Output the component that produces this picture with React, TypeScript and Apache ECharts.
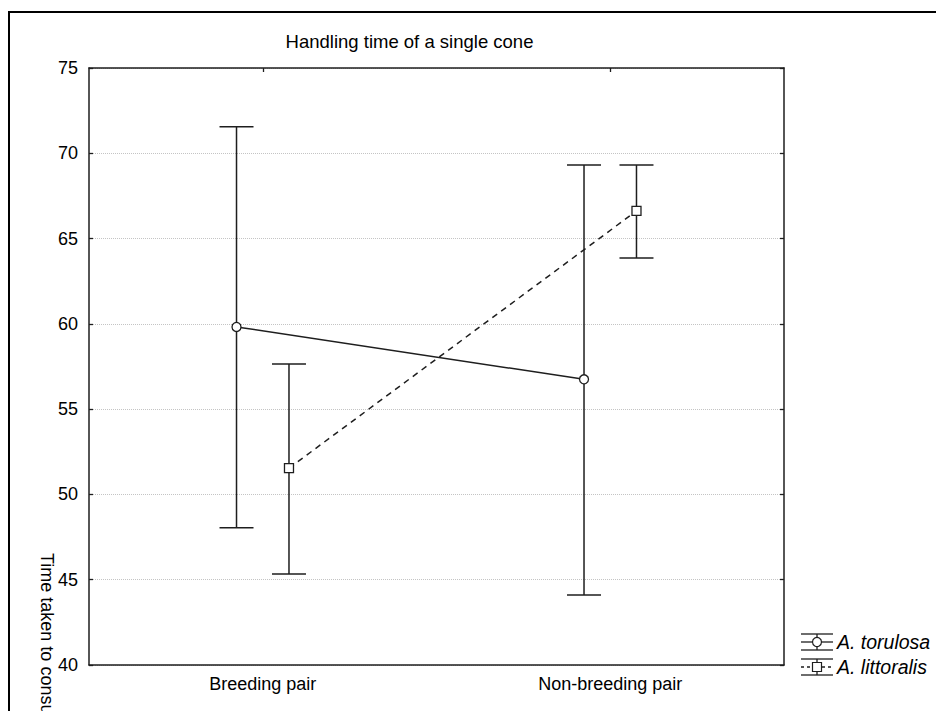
import React, { useEffect, useRef } from "react";
import * as echarts from "echarts";

const categories = ["Breeding pair", "Non-breeding pair"];
const yTicks = { min: 40, max: 75, step: 5 };

const torulosaMean = [59.82, 56.75];
const torulosaUpper = [71.55, 69.31];
const torulosaLower = [48.04, 44.11];

const littoralisMean = [51.54, 66.62];
const littoralisUpper = [57.65, 69.31];
const littoralisLower = [45.34, 63.86];

const seriesNames = ["A. torulosa", "A. littoralis"];
const titleText = "Handling time of a single cone";
const yAxisTitle = "Time taken to consume a single cone (s)";

const FONT = "Liberation Sans, Arial, sans-serif";
const INK = "#1e1e1e";
const OFFSET = 0.0755; // horizontal dodge, in category units

export default function App() {
  const ref = useRef<HTMLDivElement>(null);

  useEffect(() => {
    if (!ref.current) return;
    const chart = echarts.init(ref.current, null, { renderer: "svg" });

    const errData = (upper: number[], lower: number[], shift: number) =>
      upper.map((u, i) => [i + shift, lower[i], u]);
    const meanData = (mean: number[], shift: number) =>
      mean.map((m, i) => [i + shift, m]);

    const errorBarSeries = (name: string, data: number[][]) => ({
      type: "custom",
      name,
      xAxisIndex: 1,
      yAxisIndex: 0,
      z: 2,
      silent: true,
      data,
      encode: { x: 0, y: [1, 2] },
      renderItem: (params: any, api: any) => {
        const x = api.value(0);
        const lo = api.coord([x, api.value(1)]);
        const hi = api.coord([x, api.value(2)]);
        const hw = 17;
        const style = { stroke: INK, lineWidth: 1.5 };
        return {
          type: "group",
          children: [
            { type: "line", shape: { x1: hi[0], y1: hi[1], x2: lo[0], y2: lo[1] }, style },
            { type: "line", shape: { x1: hi[0] - hw, y1: hi[1], x2: hi[0] + hw, y2: hi[1] }, style },
            { type: "line", shape: { x1: lo[0] - hw, y1: lo[1], x2: lo[0] + hw, y2: lo[1] }, style },
          ],
        };
      },
    });

    const lineSeries = (name: string, data: number[][], symbol: string, dashed: boolean) => ({
      type: "line",
      name,
      xAxisIndex: 1,
      yAxisIndex: 0,
      z: 5,
      data,
      symbol,
      symbolSize: 9,
      showAllSymbol: true,
      itemStyle: { color: "#fff", borderColor: INK, borderWidth: 1.3 },
      lineStyle: { color: INK, width: 1.5, type: dashed ? [6, 5] : "solid" },
      emphasis: { disabled: true },
    });

    const legendIcon = (cx: number, cy: number, dashed: boolean, square: boolean) => {
      const s = { stroke: INK, lineWidth: 1.3, fill: "none" };
      const ds = dashed ? { ...s, lineDash: [3, 3] } : s;
      const els: any[] = [
        { type: "line", shape: { x1: cx - 16, y1: cy - 8, x2: cx + 16, y2: cy - 8 }, style: s },
        { type: "line", shape: { x1: cx - 16, y1: cy + 8, x2: cx + 16, y2: cy + 8 }, style: s },
        { type: "line", shape: { x1: cx, y1: cy - 8, x2: cx, y2: cy + 8 }, style: s },
        { type: "line", shape: { x1: cx - 16, y1: cy, x2: cx - 5, y2: cy }, style: ds },
        { type: "line", shape: { x1: cx + 5, y1: cy, x2: cx + 16, y2: cy }, style: ds },
      ];
      if (square) {
        els.push({ type: "rect", shape: { x: cx - 4.5, y: cy - 4.5, width: 9, height: 9 }, style: { stroke: INK, lineWidth: 1.2, fill: "#fff" }, z2: 5 });
      } else {
        els.push({ type: "circle", shape: { cx, cy, r: 4.5 }, style: { stroke: INK, lineWidth: 1.2, fill: "#fff" }, z2: 5 });
      }
      return els;
    };

    const axisLine = { show: true, onZero: false, lineStyle: { color: INK, width: 1.5 } };

    chart.setOption({
      animation: false,
      backgroundColor: "#fff",
      grid: { left: 89, top: 68, width: 695, height: 597, containLabel: false },
      xAxis: [
        {
          type: "category",
          data: categories,
          position: "bottom",
          axisLine,
          axisTick: { show: false },
          axisLabel: { color: "#000", fontSize: 18, fontFamily: FONT, margin: 10 },
          splitLine: { show: false },
        },
        { type: "value", min: -0.5, max: 1.5, show: false },
        {
          type: "category",
          data: categories,
          position: "top",
          axisLine,
          axisTick: { show: true, inside: true, alignWithLabel: true, length: 4, lineStyle: { color: INK, width: 1.3 } },
          axisLabel: { show: false },
          splitLine: { show: false },
        },
      ],
      yAxis: [
        {
          type: "value",
          min: yTicks.min,
          max: yTicks.max,
          interval: yTicks.step,
          position: "left",
          axisLine,
          axisTick: { show: true, inside: true, length: 4, lineStyle: { color: INK, width: 1.3 } },
          axisLabel: { color: "#000", fontSize: 18, fontFamily: FONT, margin: 11 },
          splitLine: { show: true, lineStyle: { color: "#c4c4c4", type: "dotted", width: 1 } },
        },
        {
          type: "value",
          min: yTicks.min,
          max: yTicks.max,
          interval: yTicks.step,
          position: "right",
          axisLine,
          axisTick: { show: true, inside: true, length: 4, lineStyle: { color: INK, width: 1.3 } },
          axisLabel: { show: false },
          splitLine: { show: false },
        },
      ],
      series: [
        errorBarSeries(seriesNames[0], errData(torulosaUpper, torulosaLower, -OFFSET)),
        errorBarSeries(seriesNames[1], errData(littoralisUpper, littoralisLower, OFFSET)),
        lineSeries(seriesNames[0], meanData(torulosaMean, -OFFSET), "circle", false),
        lineSeries(seriesNames[1], meanData(littoralisMean, OFFSET), "rect", true),
      ],
      graphic: [
        {
          type: "rect",
          shape: { x: 9, y: 12, width: 1000, height: 1000 },
          style: { stroke: "#000", lineWidth: 2, fill: "none" },
          silent: true,
          z: 0,
        },
        {
          type: "text",
          x: 409.5,
          y: 41,
          style: { text: titleText, fill: "#000", font: `18.5px ${FONT}`, align: "center", verticalAlign: "middle" },
        },
        {
          type: "text",
          x: 46.5,
          y: 553,
          rotation: -Math.PI / 2,
          style: { text: yAxisTitle, fill: "#000", font: `18px ${FONT}`, align: "left", verticalAlign: "middle" },
        },
        ...legendIcon(817, 642, false, false),
        ...legendIcon(817, 667, true, true),
        {
          type: "text",
          x: 837,
          y: 642,
          style: { text: seriesNames[0], fill: "#000", font: `italic 19.5px ${FONT}`, align: "left", verticalAlign: "middle" },
        },
        {
          type: "text",
          x: 837,
          y: 667,
          style: { text: seriesNames[1], fill: "#000", font: `italic 19.5px ${FONT}`, align: "left", verticalAlign: "middle" },
        },
      ],
    });

    return () => chart.dispose();
  }, []);

  return (
    <div
      ref={ref}
      style={{ position: "fixed", left: 0, top: 0, width: 936, height: 711, background: "#fff" }}
    />
  );
}
